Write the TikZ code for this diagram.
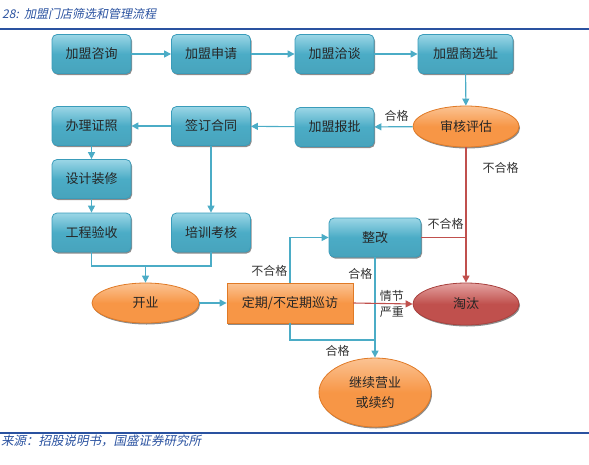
\documentclass[tikz,border=0pt]{standalone}
\usepackage{fontspec}
\setmainfont{Noto Sans CJK SC}
\newfontfamily\slantfont[FakeSlant=0.2]{Noto Sans CJK SC}
\usepackage{tikz}
\usetikzlibrary{arrows.meta,positioning,shapes.geometric,shadows}
\definecolor{flowBlue}{HTML}{4BACC6}
\definecolor{flowBlueLt}{HTML}{9BD6E6}
\definecolor{flowBlueDk}{HTML}{3A9CBA}
\definecolor{flowOrange}{HTML}{F79646}
\definecolor{flowOrangeLt}{HTML}{FBC393}
\definecolor{flowOrangeDk}{HTML}{E07A26}
\definecolor{flowRed}{HTML}{C0504D}
\definecolor{flowRedLt}{HTML}{E4A3A1}
\definecolor{flowRedDk}{HTML}{A8413E}
\definecolor{titleBlue}{HTML}{2A52A0}
\definecolor{labGray}{HTML}{333333}

\begin{document}
\begin{tikzpicture}[
    x=1pt,y=-1pt,
    every node/.style={font=\fontsize{13}{15}\selectfont,text=black!85},
    box/.style={rectangle,rounded corners=5pt,draw=flowBlueDk,line width=0.8pt,
                top color=flowBlueLt,bottom color=flowBlue!95!black,middle color=flowBlue,
                minimum width=79pt,minimum height=39pt,inner sep=0pt,
                drop shadow={shadow xshift=1pt,shadow yshift=-1.5pt,fill=black,opacity=0.45}},
    orect/.style={rectangle,draw=flowOrangeDk,line width=0.8pt,
                top color=flowOrangeLt,bottom color=flowOrange,middle color=flowOrange,
                minimum width=126pt,minimum height=40pt,inner sep=0pt,
                drop shadow={shadow xshift=1pt,shadow yshift=-1.5pt,fill=black,opacity=0.45}},
    oval/.style={ellipse,draw=flowOrangeDk,line width=0.8pt,
                top color=flowOrangeLt,bottom color=flowOrange,middle color=flowOrange,
                inner sep=0pt,align=center,
                drop shadow={shadow xshift=1pt,shadow yshift=-1.5pt,fill=black,opacity=0.45}},
    roval/.style={ellipse,draw=flowRedDk,line width=0.8pt,
                top color=flowRedLt,bottom color=flowRed,middle color=flowRed,
                inner sep=0pt,
                drop shadow={shadow xshift=1pt,shadow yshift=-1.5pt,fill=black,opacity=0.45}},
    arr/.style={-{Triangle[width=7pt,length=7pt]},line width=1.1pt,flowBlue},
    line/.style={line width=1.1pt,flowBlue},
    rarr/.style={-{Triangle[width=7pt,length=7pt]},line width=1.1pt,flowRed},
    rline/.style={line width=1.1pt,flowRed},
    lab/.style={font=\fontsize{12}{14}\selectfont,text=labGray,inner sep=2pt}
  ]
  \useasboundingbox (0,0) rectangle (589,464);

  % title and rules
  \node[anchor=west,inner sep=0pt,font=\slantfont\fontsize{12}{14}\selectfont,text=titleBlue] (title) at (2,14) {28:\ \ 加盟门店筛选和管理流程};
  \draw[titleBlue,line width=1.6pt] (0,29) -- (589,29);
  \draw[titleBlue,line width=1.6pt] (0,433) -- (589,433);
  \node[anchor=west,inner sep=0pt,font=\slantfont\fontsize{12.5}{14}\selectfont,text=titleBlue] (source) at (1,441) {来源：招股说明书，国盛证券研究所};

  % nodes
  \node[box] (zixun)     at (91.5,54)  {加盟咨询};
  \node[box] (shenqing)  at (211,54)   {加盟申请};
  \node[box] (qiatan)    at (334.5,54) {加盟洽谈};
  \node[box,minimum width=95pt] (xuanzhi) at (465.5,54) {加盟商选址};
  \node[oval,minimum width=106pt,minimum height=41pt] (pinggu) at (466,126.5) {审核评估};
  \node[box] (baopi)     at (334.5,127) {加盟报批};
  \node[box] (qianding)  at (211,126)  {签订合同};
  \node[box] (banli)     at (91.5,126) {办理证照};
  \node[box] (sheji)     at (91.5,179) {设计装修};
  \node[box] (gongcheng) at (91.5,232.5) {工程验收};
  \node[box] (peixun)    at (211,232.5) {培训考核};
  \node[box,minimum width=92pt] (zhenggai) at (375,237.5) {整改};
  \node[roval,minimum width=106pt,minimum height=42pt] (taotai) at (466,304) {淘汰};
  \node[oval,minimum width=107pt,minimum height=40pt] (kaiye) at (145.5,303) {开业};
  \node[orect] (xunfang)  at (290,303)  {定期/不定期巡访};
  \node[oval,minimum width=112pt,minimum height=69pt,font=\fontsize{13}{20}\selectfont] (jixu) at (375,392.5) {继续营业\\或续约};

  \coordinate (merge) at (145.5,266);
  \coordinate (join)  at (375,340);

  % connectors
  \draw[arr] (zixun) -- (shenqing);
  \draw[arr] (shenqing) -- (qiatan);
  \draw[arr] (qiatan) -- (xuanzhi);
  \draw[arr] (xuanzhi) -- (pinggu);
  \draw[arr] (pinggu) -- node[lab,above=3pt,xshift=3pt] {合格} (baopi);
  \draw[arr] (baopi) -- (qianding);
  \draw[arr] (qianding) -- (banli);
  \draw[arr] (banli) -- (sheji);
  \draw[arr] (sheji) -- (gongcheng);
  \draw[arr] (qianding) -- (peixun);
  \draw[line] (gongcheng.south) |- (merge) -| (peixun.south);
  \draw[arr] (merge) -- (kaiye.north);
  \draw[arr] (kaiye) -- (xunfang);
  \draw[arr] (xunfang.north) -- ++(0,-12) node[lab,left] {不合格} |- (zhenggai.west);
  \draw[arr] (zhenggai.south) -- node[lab,left,pos=0.16] {合格} (jixu.north);
  \draw[line] (xunfang.south) |- node[lab,below=3pt,pos=0.78] {合格} (join);

  \draw[rarr] (pinggu.south) -- node[lab,right=14pt,pos=0.15] {不合格} (taotai.north);
  \draw[rline] (zhenggai.east) -- node[lab,above=5pt,xshift=2pt] {不合格} (zhenggai.east -| pinggu.south);
  \draw[rarr] (xunfang.east) -- node[lab,above,pos=0.65] {情节} node[lab,below,pos=0.65] {严重} (taotai.west);
\end{tikzpicture}
\end{document}
